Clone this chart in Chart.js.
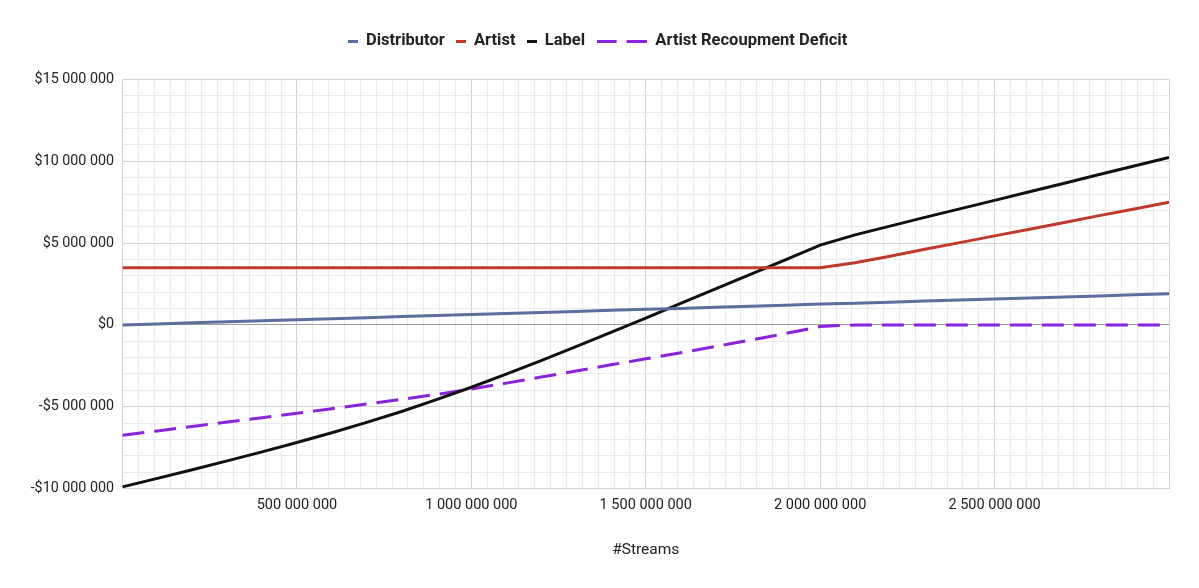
<!DOCTYPE html>
<html>
<head>
<meta charset="utf-8">
<title>Streams split</title>
<script src="https://cdn.jsdelivr.net/npm/chart.js@4.4.1/dist/chart.umd.min.js"></script>
<style>
  html, body { margin: 0; padding: 0; background: #fff; }
  #wrap { width: 1199px; height: 588px; }
</style>
</head>
<body>
<div id="wrap"><canvas id="chart" width="1199" height="588"></canvas></div>
<script>
// streams, in millions (one point every 100 M)
const streams = [0, 100, 200, 300, 400, 500, 600, 700, 800, 900, 1000, 1100, 1200, 1300, 1400, 1500,
  1600, 1700, 1800, 1900, 2000, 2100, 2200, 2300, 2400, 2500, 2600, 2700, 2800, 2900, 3000];

// money, in millions of $
const distributor = [0, 0.06, 0.13, 0.19, 0.25, 0.32, 0.38, 0.44, 0.51, 0.57, 0.63, 0.70, 0.76, 0.82, 0.89, 0.95,
  1.01, 1.08, 1.14, 1.20, 1.27, 1.33, 1.39, 1.46, 1.52, 1.58, 1.65, 1.71, 1.77, 1.84, 1.90];
const artist = [3.5, 3.5, 3.5, 3.5, 3.5, 3.5, 3.5, 3.5, 3.5, 3.5, 3.5, 3.5, 3.5, 3.5, 3.5, 3.5,
  3.5, 3.5, 3.5, 3.5, 3.5, 3.80, 4.20, 4.62, 5.03, 5.44, 5.85, 6.26, 6.68, 7.09, 7.50];
const label = [-9.9, -9.38, -8.85, -8.31, -7.76, -7.19, -6.59, -5.96, -5.29, -4.57, -3.81, -3.01, -2.18, -1.33, -0.46, 0.42,
  1.31, 2.20, 3.09, 3.98, 4.88, 5.5, 6.04, 6.57, 7.09, 7.61, 8.14, 8.66, 9.19, 9.71, 10.24];
const deficit = [-6.75, -6.48, -6.21, -5.94, -5.67, -5.4, -5.12, -4.84, -4.55, -4.25, -3.92, -3.56, -3.19, -2.82, -2.44, -2.07,
  -1.7, -1.32, -0.93, -0.53, -0.1, 0, 0, 0, 0, 0, 0, 0, 0, 0, 0];

const seriesNames = ['Distributor', 'Artist', 'Label', 'Artist Recoupment Deficit'];

// axis setup
const xMax = 3000e6;
const xMajorStep = 500e6;
const xMinorPerMajor = 11;
const yMin = -10e6, yMax = 15e6, yMinorStep = 1e6, yMajorStep = 5e6;

function spaced(n) {
  return Math.round(n).toString().replace(/\B(?=(\d{3})+(?!\d))/g, ' ');
}
function pts(values) {
  return values.map((v, i) => ({ x: streams[i] * 1e6, y: v * 1e6 }));
}

// little legend swatches (solid dash, or two dashes for the dashed series)
function swatch(color, dashed) {
  const c = document.createElement('canvas');
  c.width = dashed ? 50 : 10;
  c.height = 3;
  const g = c.getContext('2d');
  g.fillStyle = color;
  if (dashed) { g.fillRect(0, 0, 20, 3); g.fillRect(30, 0, 20, 3); }
  else g.fillRect(0, 0, 10, 3);
  return c;
}

const MINOR = '#ebebeb', MAJOR = '#d2d2d2', ZERO = '#9e9e9e';
const colors = ['#5b6e9e', '#c0392b', '#111111', '#8a22e0'];

// push the plot down a bit under the legend
const legendSpacer = {
  id: 'legendSpacer',
  beforeInit(chart) {
    const fit = chart.legend.fit;
    chart.legend.fit = function () { fit.call(this); this.height += 20; };
  }
};

Chart.defaults.font.family = 'Roboto, "Noto Sans", sans-serif';
Chart.defaults.color = '#222';

new Chart(document.getElementById('chart'), {
  type: 'line',
  data: {
    datasets: [
      { label: seriesNames[0], data: pts(distributor), borderColor: colors[0], backgroundColor: colors[0], borderWidth: 3, pointStyle: swatch(colors[0], false) },
      { label: seriesNames[1], data: pts(artist), borderColor: colors[1], backgroundColor: colors[1], borderWidth: 3, pointStyle: swatch(colors[1], false) },
      { label: seriesNames[2] + '     ', data: pts(label), borderColor: colors[2], backgroundColor: colors[2], borderWidth: 3, pointStyle: swatch(colors[2], false) },
      { label: '     ' + seriesNames[3], data: pts(deficit), borderColor: colors[3], backgroundColor: colors[3], borderWidth: 3, borderDash: [22, 10], pointStyle: swatch(colors[3], true) }
    ]
  },
  options: {
    responsive: false,
    animation: false,
    devicePixelRatio: 1,
    elements: { point: { radius: 0 }, line: { tension: 0 } },
    layout: { padding: { top: 22, right: 30, bottom: 0, left: 26 } },
    plugins: {
      legend: {
        position: 'top',
        labels: {
          usePointStyle: true,
          pointStyleWidth: 10,
          padding: 11,
          color: '#222',
          font: { size: 16.5, weight: 'bold' }
        }
      },
      tooltip: { enabled: false }
    },
    scales: {
      x: {
        type: 'linear',
        min: 0,
        max: xMax,
        afterBuildTicks(scale) {
          const t = [];
          const n = (xMax / xMajorStep) * xMinorPerMajor;
          for (let i = 0; i <= n; i++) t.push({ value: xMax * i / n });
          scale.ticks = t;
        },
        afterFit(scale) { scale.height = 99.5; },
        ticks: {
          autoSkip: false,
          maxRotation: 0,
          padding: 8,
          font: { size: 14.5 },
          color: '#222',
          callback(value, index) {
            if (index % xMinorPerMajor !== 0 || index === 0 || value >= xMax) return '';
            return spaced(value);
          }
        },
        grid: {
          drawTicks: false,
          color(ctx) { return ctx.index % xMinorPerMajor === 0 ? MAJOR : MINOR; }
        },
        border: { display: false },
        title: {
          display: true,
          text: '#Streams',
          font: { size: 15.5 },
          color: '#222',
          padding: { top: 0, bottom: 29 }
        }
      },
      y: {
        min: yMin,
        max: yMax,
        afterFit(scale) { scale.width = 96.5; },
        ticks: {
          stepSize: yMinorStep,
          autoSkip: false,
          padding: 8.5,
          font: { size: 14.3 },
          color: '#222',
          callback(value) {
            if (Math.round(value) % yMajorStep !== 0) return '';
            return (value < 0 ? '-' : '') + '$' + spaced(Math.abs(value));
          }
        },
        grid: {
          drawTicks: false,
          color(ctx) {
            const v = Math.round(ctx.tick.value);
            if (v === 0) return ZERO;
            return v % yMajorStep === 0 ? MAJOR : MINOR;
          }
        },
        border: { display: false }
      }
    }
  },
  plugins: [legendSpacer]
});
</script>
</body>
</html>
